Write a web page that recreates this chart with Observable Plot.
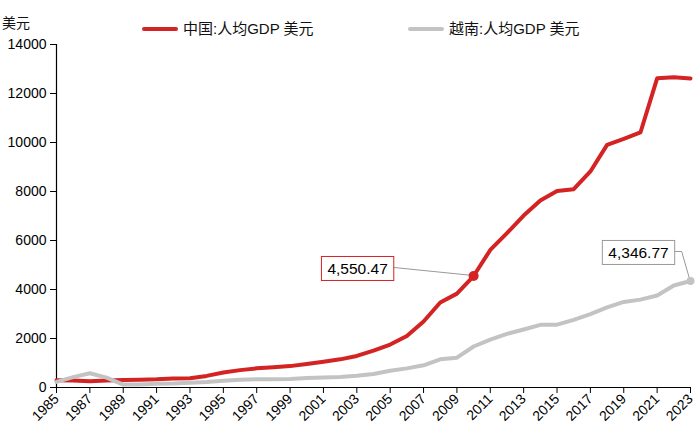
<!DOCTYPE html>
<html><head><meta charset="utf-8">
<script src="https://cdn.jsdelivr.net/npm/d3@7"></script>
<script src="https://cdn.jsdelivr.net/npm/@observablehq/plot@0.6"></script>
<style>
body{margin:0;background:#fff;}
#wrap{position:relative;width:700px;height:442px;font-family:"Liberation Sans",Arial,"Noto Sans CJK SC",sans-serif;color:#111;}
#wrap svg{position:absolute;left:0;top:0;}
.legend{position:absolute;top:20px;display:flex;align-items:center;font-size:15px;line-height:18px;z-index:2;}
.sw{display:inline-block;width:36px;height:4px;border-radius:2px;margin-right:5px;}
#unit{position:absolute;left:2px;top:12px;font-size:14px;z-index:2;}
</style></head><body>
<div id="wrap">
<div id="unit">美元</div>
<div class="legend" style="left:142px"><span class="sw" style="background:#d42323"></span>中国:人均GDP 美元</div>
<div class="legend" style="left:408px"><span class="sw" style="background:#c3c3c3"></span>越南:人均GDP 美元</div>
</div>
<script>
const years = [1985,1986,1987,1988,1989,1990,1991,1992,1993,1994,1995,1996,1997,1998,1999,2000,2001,2002,2003,2004,2005,2006,2007,2008,2009,2010,2011,2012,2013,2014,2015,2016,2017,2018,2019,2020,2021,2022,2023];
const chinaGDP = [294,282,252,284,311,318,333,366,377,473,610,709,782,829,873,959,1053,1149,1289,1509,1753,2099,2694,3468,3832,4550.47,5614,6301,7020,7636,8016,8094,8817,9905,10144,10409,12618,12663,12614];
const vietnamGDP = [231,422,583,402,120,120,150,160,190,225,277,321,337,337,349,390,404,432,482,554,684,780,906,1149,1218,1673,1954,2190,2368,2558,2566,2759,2992,3267,3491,3586,3757,4164,4346.77];
const xTicks = [1985,1987,1989,1991,1993,1995,1997,1999,2001,2003,2005,2007,2009,2011,2013,2015,2017,2019,2021,2023];
const yTicks = [0,2000,4000,6000,8000,10000,12000,14000];
const annotations = [
  {year:2010, value:4550.47, label:"4,550.47", series:"china"},
  {year:2023, value:4346.77, label:"4,346.77", series:"vietnam"}
];

const RED = "#d42323", GREY = "#c3c3c3";
const china = years.map((y,i)=>({year:y, value:chinaGDP[i]}));
const vietnam = years.map((y,i)=>({year:y, value:vietnamGDP[i]}));
const annChina = annotations.filter(d=>d.series==="china");
const annViet = annotations.filter(d=>d.series==="vietnam");

const plot = Plot.plot({
  width:700, height:442,
  marginTop:44, marginBottom:55, marginLeft:56, marginRight:10,
  style:{fontFamily:'"Liberation Sans",Arial,sans-serif', fontSize:"14px", color:"#000", background:"transparent", overflow:"visible"},
  x:{domain:[1985,2023]},
  y:{domain:[0,14000]},
  marks:[
    Plot.axisY({ticks:yTicks, tickSize:6, tickPadding:4, label:null, tickFormat:d=>String(d), fontSize:14, stroke:"#000", fill:"#000"}),
    Plot.axisX({ticks:xTicks, tickSize:6, tickPadding:3, tickRotate:-45, label:null, tickFormat:d=>String(d), fontSize:14, stroke:"#000", fill:"#000"}),
    Plot.ruleX([1985], {stroke:"#000", strokeWidth:1.2}),
    Plot.ruleY([0], {stroke:"#000", strokeWidth:1.2}),
    Plot.line(china, {x:"year", y:"value", stroke:RED, strokeWidth:4}),
    Plot.line(vietnam, {x:"year", y:"value", stroke:GREY, strokeWidth:4}),
    Plot.dot(annChina, {x:"year", y:"value", r:5, fill:RED}),
    Plot.dot(annViet, {x:"year", y:"value", r:4, fill:GREY}),
    Plot.text(annChina, {x:"year", y:"value", text:"label", dx:-116, dy:-7, fontSize:15.5, fill:"#000"}),
    Plot.text(annViet, {x:"year", y:"value", text:"label", dx:-52, dy:-28, fontSize:15.5, fill:"#000"})
  ]
});
document.getElementById("wrap").appendChild(plot);

const sx = plot.scale("x"), sy = plot.scale("y");
const svg = d3.select(plot);
function boxFor(label, stroke) {
  const t = svg.selectAll("text").filter(function(){ return this.textContent === label; }).node();
  if (!t) return null;
  const b = t.getBBox();
  const padX = 6, h = 24;
  const r = {x:b.x - padX, y:b.y + b.height/2 - h/2, w:b.width + 2*padX, h:h};
  const rect = document.createElementNS("http://www.w3.org/2000/svg","rect");
  t.parentNode.insertBefore(rect, t);
  const tf = t.getAttribute("transform");
  d3.select(rect).attr("x", r.x).attr("y", r.y).attr("width", r.w).attr("height", r.h)
    .attr("transform", tf)
    .attr("fill", "#fff").attr("stroke", stroke).attr("stroke-width", 1);
  const tr = t.getCTM(), root = plot.getCTM();
  const inv = root.inverse().multiply(tr);
  const toRoot = (px,py)=>({x: inv.a*px + inv.c*py + inv.e, y: inv.b*px + inv.d*py + inv.f});
  const p1 = toRoot(r.x + r.w, r.y + r.h/2 - 1);
  return {right:p1.x, mid:p1.y};
}
const leaders = svg.append("g");
const rc = boxFor("4,550.47", RED);
if (rc) {
  const a = annChina[0];
  leaders.append("path")
    .attr("d", `M${rc.right},${rc.mid}L${sx.apply(a.year)},${sy.apply(a.value)}`)
    .attr("stroke","#999").attr("fill","none").attr("stroke-width",1);
}
const rv = boxFor("4,346.77", "#999");
if (rv) {
  const a = annViet[0];
  leaders.append("path")
    .attr("d", `M${rv.right},${rv.mid}H${rv.right+7}L${sx.apply(a.year)},${sy.apply(a.value)}`)
    .attr("stroke","#999").attr("fill","none").attr("stroke-width",1);
}
const dotG = svg.selectAll("circle").node();
if (dotG && dotG.parentNode && dotG.parentNode.parentNode === plot) plot.insertBefore(leaders.node(), dotG.parentNode);
</script>
</body></html>
